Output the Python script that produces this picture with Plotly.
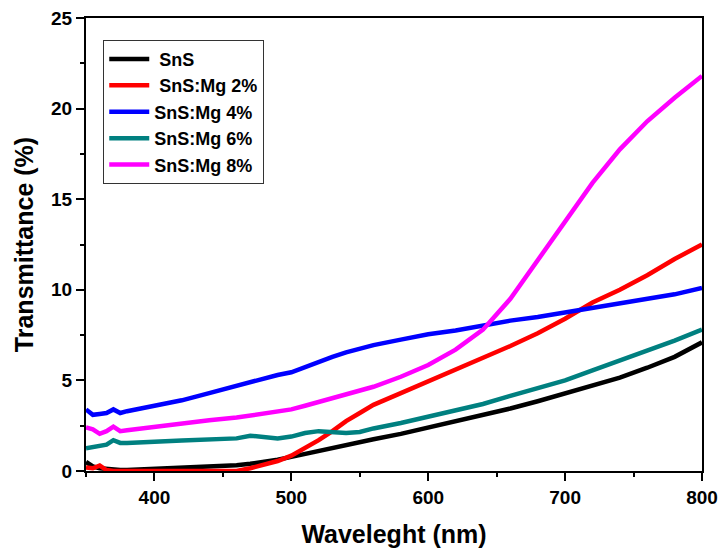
import plotly.graph_objects as go

# Wavelength grid (nm)
wavelength = [350, 355, 360, 365, 370, 375, 380, 390, 400, 420, 440, 460, 470, 480, 490,
              500, 510, 520, 530, 540, 550, 560, 580, 600, 620, 640, 660, 680, 700, 720,
              740, 760, 780, 800]

# Transmittance (%) for each film
sns = [0.5, 0.25, 0.15, 0.1, 0.08, 0.05, 0.05, 0.08, 0.1, 0.15, 0.22, 0.32, 0.4, 0.5, 0.62,
       0.78, 0.95, 1.12, 1.3, 1.45, 1.6, 1.75, 2.05, 2.4, 2.7, 3.05, 3.45, 3.85, 4.3, 4.75,
       5.15, 5.7, 6.3, 7.1]
mg2 = [0.2, 0.15, 0.3, 0.05, 0.0, 0.0, 0.0, 0.0, 0.0, 0.0, 0.0, 0.0, 0.15, 0.35, 0.55,
       0.85, 1.25, 1.7, 2.2, 2.75, 3.2, 3.65, 4.3, 4.95, 5.55, 6.2, 6.9, 7.6, 8.4, 9.3,
       10.0, 10.8, 11.7, 12.5]
mg4 = [3.4, 3.1, 3.15, 3.2, 3.4, 3.2, 3.3, 3.45, 3.6, 3.9, 4.3, 4.7, 4.95, 5.15, 5.3,
       5.45, 5.75, 6.05, 6.3, 6.55, 6.75, 6.95, 7.25, 7.55, 7.75, 8.05, 8.3, 8.5, 8.75, 8.95,
       9.2, 9.45, 9.75, 10.1]
mg6 = [1.25, 1.3, 1.4, 1.45, 1.7, 1.55, 1.55, 1.6, 1.62, 1.68, 1.72, 1.8, 1.95, 1.85, 1.8,
       1.9, 2.1, 2.2, 2.15, 2.1, 2.15, 2.35, 2.65, 3.0, 3.3, 3.7, 4.15, 4.6, 5.0, 5.55,
       6.1, 6.6, 7.2, 7.8]
mg8 = [2.4, 2.3, 2.05, 2.2, 2.45, 2.2, 2.25, 2.35, 2.45, 2.6, 2.8, 2.95, 3.05, 3.2, 3.3,
       3.4, 3.6, 3.8, 4.0, 4.2, 4.4, 4.65, 5.2, 5.85, 6.7, 7.8, 9.5, 11.6, 13.8, 15.9,
       17.75, 19.3, 20.6, 21.8]

names = ["\u00a0SnS", "\u00a0SnS:Mg 2%", "SnS:Mg 4%", "SnS:Mg 6%", "SnS:Mg 8%"]
series = [sns, mg2, mg4, mg6, mg8]
colors = ["#000000", "#FF0000", "#0000FF", "#008080", "#FF00FF"]

fig = go.Figure()
for name, vals, col in zip(names, series, colors):
    fig.add_trace(go.Scatter(x=wavelength, y=vals, mode="lines", name=name,
                             line=dict(color=col, width=4.5)))

font_main = "Arial, Liberation Sans, sans-serif"
axis_common = dict(
    showgrid=False, zeroline=False, showline=True, linecolor="black", linewidth=2,
    mirror=True, ticks="outside", ticklen=8, tickwidth=2, tickcolor="black",
    automargin=False,
    tickfont=dict(family=font_main, size=19, color="black", weight="bold"),
)

fig.update_layout(
    width=719, height=554,
    margin=dict(l=86, r=17, t=18, b=83),
    paper_bgcolor="white", plot_bgcolor="white",
    font=dict(family=font_main, color="black"),
    xaxis=dict(range=[350, 800], tick0=400, dtick=100,
               minor=dict(dtick=50, tick0=350, ticks="outside", ticklen=4, tickwidth=2,
                          tickcolor="black"),
               title=dict(text="Waveleght (nm)", standoff=19,
                          font=dict(family=font_main, size=25, color="black", weight="bold")),
               **axis_common),
    yaxis=dict(range=[0, 25], tick0=0, dtick=5,
               minor=dict(dtick=2.5, ticks="outside", ticklen=4, tickwidth=2,
                          tickcolor="black"),
               title=dict(text="Transmittance (%)", standoff=10,
                          font=dict(family=font_main, size=25, color="black", weight="bold")),
               **axis_common),
    legend=dict(x=0.028, y=0.952, xanchor="left", yanchor="top",
                bgcolor="white", bordercolor="#333333", borderwidth=1,
                font=dict(family=font_main, size=18, color="black", weight="bold"),
                tracegroupgap=0, itemwidth=40),
    showlegend=True,
)

fig.write_html("out.html")
